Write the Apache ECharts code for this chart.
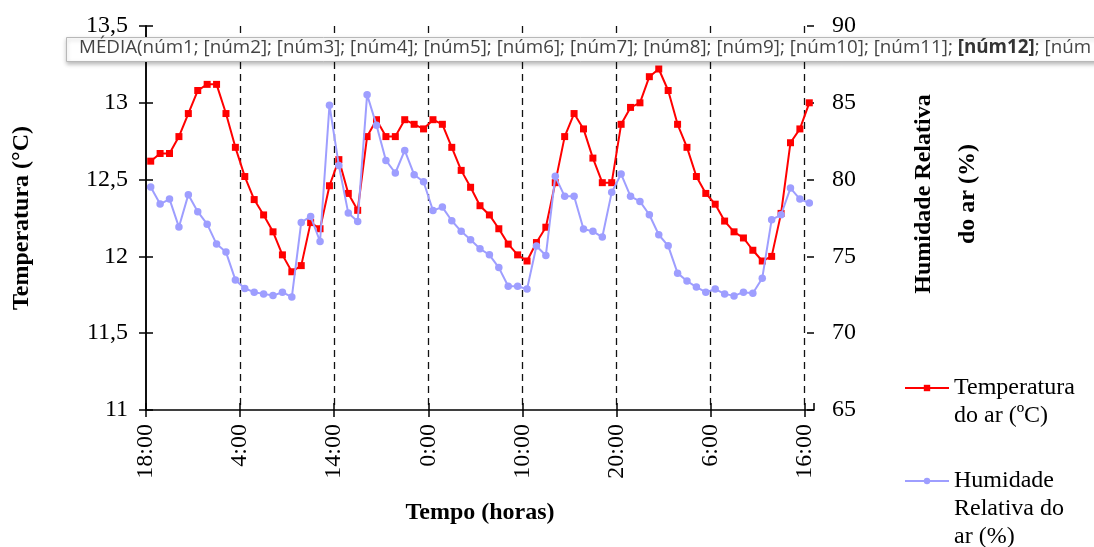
<!DOCTYPE html>
<html><head><meta charset="utf-8">
<script src="https://cdn.jsdelivr.net/npm/echarts@6/dist/echarts.min.js"></script>
<style>html,body{margin:0;padding:0;background:#fff}#c{width:1094px;height:547px}</style>
</head><body><div id="c"></div>
<script>
const times = ['18:30','19:30','20:30','21:30','22:30','23:30',
 '0:30','1:30','2:30','3:30','4:30','5:30','6:30','7:30','8:30','9:30','10:30','11:30',
 '12:30','13:30','14:30','15:30','16:30','17:30','18:30','19:30','20:30','21:30','22:30','23:30',
 '0:30','1:30','2:30','3:30','4:30','5:30','6:30','7:30','8:30','9:30','10:30','11:30',
 '12:30','13:30','14:30','15:30','16:30','17:30','18:30','19:30','20:30','21:30','22:30','23:30',
 '0:30','1:30','2:30','3:30','4:30','5:30','6:30','7:30','8:30','9:30','10:30','11:30',
 '12:30','13:30','14:30','15:30','16:30'];
const temperature = [12.62,12.67,12.67,12.78,12.93,13.08,13.12,13.12,12.93,12.71,
 12.52,12.37,12.27,12.16,12.01,11.90,11.94,12.22,12.18,12.46,
 12.63,12.41,12.30,12.78,12.89,12.78,12.78,12.89,12.86,12.83,
 12.89,12.86,12.71,12.56,12.45,12.33,12.27,12.18,12.08,12.01,
 11.97,12.09,12.19,12.48,12.78,12.93,12.83,12.64,12.48,12.48,
 12.86,12.97,13.00,13.17,13.22,13.08,12.86,12.71,12.52,12.41,
 12.34,12.23,12.16,12.12,12.04,11.97,12.00,12.28,12.74,12.83,
 13.00];
const humidity = [79.52,78.41,78.73,76.91,79.02,77.91,77.10,75.80,75.28,73.47,
 72.91,72.67,72.56,72.45,72.67,72.35,77.21,77.60,75.97,84.84,
 80.91,77.82,77.28,85.53,83.54,81.25,80.43,81.90,80.32,79.86,
 77.99,78.21,77.32,76.63,76.08,75.50,75.10,74.27,73.06,73.06,
 72.87,75.68,75.06,80.21,78.91,78.91,76.78,76.63,76.26,79.17,
 80.36,78.91,78.58,77.71,76.41,75.69,73.91,73.40,73.00,72.67,
 72.87,72.56,72.43,72.67,72.60,73.58,77.39,77.71,79.45,78.73,
 78.47];
const xTickLabels = ['18:00','4:00','14:00','0:00','10:00','20:00','6:00','16:00'];
const tempTickLabels = ['11','11,5','12','12,5','13','13,5'];
const humTickLabels = ['65','70','75','80','85','90'];
const seriesNames = ['Temperatura\ndo ar (ºC)', 'Humidade\nRelativa do\nar (%)'];
const axisTitles = {x: 'Tempo (horas)', left: 'Temperatura (°C)', right: 'Humidade Relativa\ndo ar (%)'};
const formulaBefore = 'MÉDIA(núm1; [núm2]; [núm3]; [núm4]; [núm5]; [núm6]; [núm7]; [núm8]; [núm9]; [núm10]; [núm11]; ';
const formulaBold = '[núm12]';
const formulaAfter = '; [núm';

// elapsed hours since the first x tick (18:00)
function toHours(t){ const p = t.split(':').map(Number); return p[0] + p[1]/60; }
const start = toHours(xTickLabels[0]);
const xs = []; { let off = 0, prev = -1; times.forEach(t => { let v = toHours(t) + off; if (v < prev) { off += 24; v += 24; } prev = v; xs.push(v - start); }); }

const serif = 'Liberation Serif';
const black = '#000';
const axisLineStyle = {color: black, width: 1.5};
const tickStyle = {color: black, width: 1.5};
// legend label: blank lines before the name so the icon sits beside its first line
const legendLabel = name => '\n'.repeat(name.split('\n').length - 1) + name;

const chart = echarts.init(document.getElementById('c'), null, {renderer: 'canvas'});
chart.setOption({
  animation: false,
  backgroundColor: '#fff',
  grid: {left: 146, top: 26, width: 668, height: 384, containLabel: false},
  xAxis: [{
    type: 'value', min: 0, max: 71, interval: 10,
    axisLine: {lineStyle: axisLineStyle},
    axisTick: {length: 7, lineStyle: tickStyle},
    axisLabel: {rotate: 90, margin: 14, fontFamily: serif, fontSize: 24, color: black,
      showMaxLabel: false,
      formatter: v => (v % 10 === 0 && xTickLabels[v/10] !== undefined) ? xTickLabels[v/10] : ''},
    splitLine: {show: true, showMinLine: false, showMaxLine: false,
      lineStyle: {type: [7, 5], color: '#111', width: 1.3}},
    name: axisTitles.x, nameLocation: 'middle', nameGap: 91,
    nameTextStyle: {fontFamily: serif, fontWeight: 'bold', fontSize: 24, color: black}
  }, {
    type: 'value', min: 0, max: 71, interval: 10, position: 'bottom',
    axisLine: {show: false}, axisTick: {inside: true, length: 7, lineStyle: tickStyle},
    axisLabel: {show: false}, splitLine: {show: false}
  }],
  yAxis: [{
    type: 'value', min: 11, max: 13.5, interval: 0.5, position: 'left',
    axisLine: {show: true, lineStyle: axisLineStyle},
    axisTick: {show: true, length: 7, lineStyle: tickStyle},
    axisLabel: {margin: 18, fontFamily: serif, fontSize: 24, color: black,
      formatter: v => tempTickLabels[Math.round((v - 11) / 0.5)]},
    splitLine: {show: false},
    name: axisTitles.left, nameLocation: 'middle', nameRotate: 90, nameGap: 112,
    nameTextStyle: {fontFamily: serif, fontWeight: 'bold', fontSize: 24, color: black}
  }, {
    type: 'value', min: 65, max: 90, interval: 5, position: 'right',
    axisLine: {show: true, lineStyle: axisLineStyle},
    axisTick: {show: true, length: 7, lineStyle: tickStyle},
    axisLabel: {margin: 18, fontFamily: serif, fontSize: 24, color: black,
      formatter: v => humTickLabels[Math.round((v - 65) / 5)]},
    splitLine: {show: false},
    name: axisTitles.right, nameLocation: 'middle', nameRotate: 90, nameGap: 88,
    nameTextStyle: {fontFamily: serif, fontWeight: 'bold', fontSize: 24, color: black, lineHeight: 44,
      padding: [0, 0, 0, 48]}
  }, {
    type: 'value', min: 11, max: 13.5, interval: 0.5, position: 'left',
    axisLine: {show: false}, axisTick: {show: true, inside: true, length: 7, lineStyle: tickStyle},
    axisLabel: {show: false}, splitLine: {show: false}
  }, {
    type: 'value', min: 65, max: 90, interval: 5, position: 'right',
    axisLine: {show: false}, axisTick: {show: true, inside: true, length: 7, lineStyle: tickStyle},
    axisLabel: {show: false}, splitLine: {show: false}
  }],
  legend: [{
    data: [seriesNames[0]], formatter: legendLabel,
    left: 904, top: 346, orient: 'vertical', padding: 0, itemWidth: 44, itemHeight: 8,
    textStyle: {fontFamily: serif, fontSize: 24, lineHeight: 28, color: black}
  }, {
    data: [seriesNames[1]], formatter: legendLabel,
    left: 904, top: 411, orient: 'vertical', padding: 0, itemWidth: 44, itemHeight: 8,
    textStyle: {fontFamily: serif, fontSize: 24, lineHeight: 28, color: black}
  }],
  series: [{
    name: seriesNames[0], type: 'line', xAxisIndex: 0, yAxisIndex: 0,
    data: temperature.map((v, i) => [xs[i], v]),
    symbol: 'rect', symbolSize: 7, showSymbol: true,
    itemStyle: {color: '#FF0000'}, lineStyle: {color: '#FF0000', width: 2}, z: 3
  }, {
    name: seriesNames[1], type: 'line', xAxisIndex: 0, yAxisIndex: 1,
    data: humidity.map((v, i) => [xs[i], v]),
    symbol: 'circle', symbolSize: 7.5, showSymbol: true,
    itemStyle: {color: '#9E9EFF'}, lineStyle: {color: '#9E9EFF', width: 2}, z: 4
  }],
  graphic: [{
    type: 'rect', left: 66, top: 37, z: 100,
    shape: {width: 1040, height: 24},
    style: {fill: '#fff', stroke: '#b8b8b8', lineWidth: 1, shadowBlur: 4, shadowOffsetY: 2, shadowColor: 'rgba(0,0,0,0.25)'}
  }, {
    type: 'text', left: 79, top: 38, z: 101,
    style: {
      text: '{n|' + formulaBefore + '}{b|' + formulaBold + '}{n|' + formulaAfter + '}',
      rich: {
        n: {fontFamily: 'Open Sans', fontSize: 18.8, fill: '#444', color: '#444'},
        b: {fontFamily: 'Open Sans', fontSize: 18.8, fontWeight: 'bold', fill: '#333', color: '#333'}
      }
    }
  }]
});
</script></body></html>
